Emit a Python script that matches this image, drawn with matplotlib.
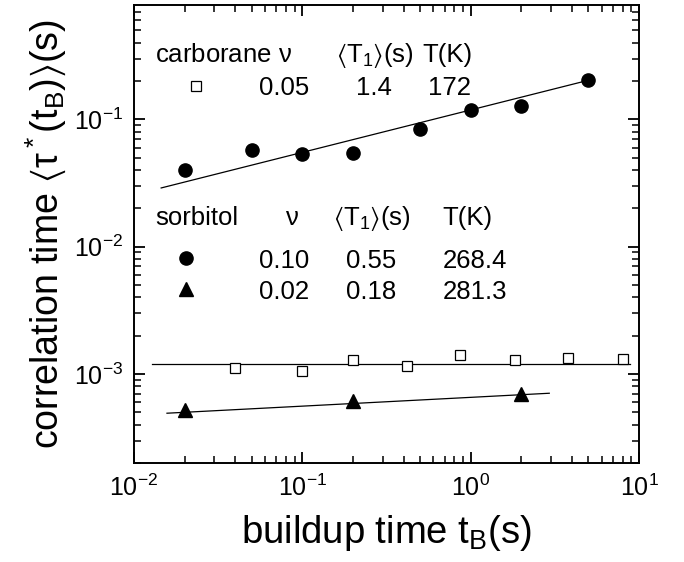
import numpy as np
import matplotlib
matplotlib.use("Agg")
import matplotlib.pyplot as plt

plt.rcParams['font.family'] = ['Liberation Sans', 'DejaVu Sans']
plt.rcParams['mathtext.fontset'] = 'custom'
plt.rcParams['mathtext.rm'] = 'Liberation Sans'
plt.rcParams['mathtext.it'] = 'Liberation Sans'
plt.rcParams['mathtext.default'] = 'rm'
plt.rcParams['mathtext.fallback'] = 'stixsans'

# sorbitol, nu = 0.10 (filled circles)
circ_tb = [0.02, 0.05, 0.1, 0.2, 0.5, 1.0, 2.0, 5.0]
circ_tau = [0.040, 0.0575, 0.053, 0.054, 0.084, 0.118, 0.128, 0.203]
circ_fit_tb = [0.0145, 5.04]
circ_fit_tau = [0.0289, 0.203]

# carborane, nu = 0.05 (open squares)
sq_tb = [0.04, 0.1, 0.2, 0.42, 0.87, 1.83, 3.8, 8.0]
sq_tau = [1.12e-3, 1.05e-3, 1.29e-3, 1.15e-3, 1.42e-3, 1.28e-3, 1.33e-3, 1.32e-3]
sq_fit_tb = [0.0128, 8.9]
sq_fit_tau = [1.20e-3, 1.20e-3]

# sorbitol, nu = 0.02 (filled triangles)
tri_tb = [0.02, 0.2, 2.0]
tri_tau = [5.17e-4, 6.1e-4, 7.0e-4]
tri_fit_tb = [0.0157, 2.93]
tri_fit_tau = [4.92e-4, 7.06e-4]

fig = plt.figure(figsize=(6.84, 5.62), dpi=100)
ax = fig.add_axes([134/684, 1-463/562, 505/684, 458/562])

ax.plot(circ_fit_tb, circ_fit_tau, color='black', lw=0.9)
ax.plot(sq_fit_tb, sq_fit_tau, color='black', lw=0.9)
ax.plot(tri_fit_tb, tri_fit_tau, color='black', lw=0.9)
ax.plot(circ_tb, circ_tau, 'o', ms=9.5, color='black', ls='none')
ax.plot(sq_tb, sq_tau, 's', ms=7, mfc='white', mec='black', mew=0.9, ls='none')
ax.plot(tri_tb, tri_tau, '^', ms=10, color='black', ls='none')

ax.set_xscale('log')
ax.set_yscale('log')
ax.set_xlim(1e-2, 1e1)
ax.set_ylim(2.0e-4, 0.79)

for s in ax.spines.values():
    s.set_linewidth(1.4)
ax.tick_params(which='both', direction='in', top=True, right=True, labelsize=18)
ax.tick_params(which='major', length=8, width=1.3, pad=8)
ax.tick_params(which='minor', length=5, width=1.1)

ax.set_xlabel(r'buildup time t$_\mathrm{B}$(s)', fontsize=27.5, labelpad=9)
ax.set_ylabel(r'correlation time $\langle\tau^*$(t$_\mathrm{B}$)$\rangle$(s)', fontsize=27, labelpad=4)

fs = 18.5
# carborane block
ax.text(0.0134, 0.284, r'carborane $\nu$', fontsize=fs, ha='left', va='baseline')
ax.text(0.159, 0.284, r'$\langle$T$_1\rangle$(s)', fontsize=fs, ha='left', va='baseline')
ax.text(0.52, 0.284, 'T(K)', fontsize=fs, ha='left', va='baseline')
ax.plot([0.0232], [0.183], 's', ms=7, mfc='white', mec='black', mew=0.9)
ax.text(0.0553, 0.155, '0.05', fontsize=fs, ha='left', va='baseline')
ax.text(0.208, 0.155, '1.4', fontsize=fs, ha='left', va='baseline')
ax.text(0.56, 0.155, '172', fontsize=fs, ha='left', va='baseline')

# sorbitol block
ax.text(0.0134, 0.01486, 'sorbitol', fontsize=fs, ha='left', va='baseline')
ax.text(0.0794, 0.01486, r'$\nu$', fontsize=fs, ha='left', va='baseline')
ax.text(0.152, 0.01486, r'$\langle$T$_1\rangle$(s)', fontsize=fs, ha='left', va='baseline')
ax.text(0.68, 0.01486, 'T(K)', fontsize=fs, ha='left', va='baseline')
ax.plot([0.0203], [8.2e-3], 'o', ms=9.5, color='black')
ax.text(0.0553, 6.85e-3, '0.10', fontsize=fs, ha='left', va='baseline')
ax.text(0.182, 6.85e-3, '0.55', fontsize=fs, ha='left', va='baseline')
ax.text(0.68, 6.85e-3, '268.4', fontsize=fs, ha='left', va='baseline')
ax.plot([0.0203], [4.66e-3], '^', ms=10, color='black')
ax.text(0.0553, 3.88e-3, '0.02', fontsize=fs, ha='left', va='baseline')
ax.text(0.182, 3.88e-3, '0.18', fontsize=fs, ha='left', va='baseline')
ax.text(0.68, 3.88e-3, '281.3', fontsize=fs, ha='left', va='baseline')

fig.savefig('out.png', dpi=100)
